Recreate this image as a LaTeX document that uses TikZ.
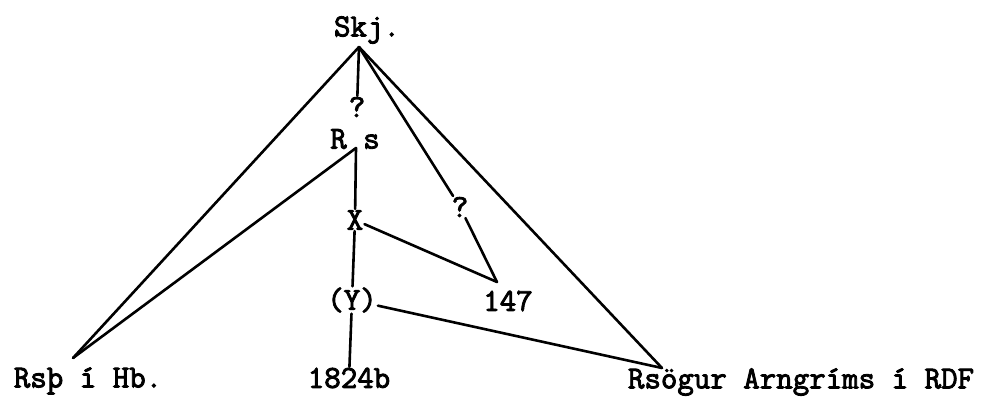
\documentclass[tikz,border=0pt]{standalone}
\usepackage{fontspec}
\newfontfamily\twfont{Latin Modern Mono}[FakeBold=2.8]
\usetikzlibrary{positioning}

\tikzset{
  ms/.style={font=\twfont\fontsize{32}{34}\selectfont, inner sep=1pt},
  stem/.style={line width=2.6pt, line cap=round, line join=round}
}

\begin{document}
\begin{tikzpicture}[x=1pt,y=-1pt]
    \useasboundingbox (0,0) rectangle (984,405);
    \node[ms] (skj) at (367,30) {Skj.};
    \node[ms] (q1) at (357,107) {?};
    \node[ms] (rs) at (355,139) {R s};
    \node[ms] (x) at (355,220) {X};
    \node[ms] (q2) at (460,207) {?};
    \node[ms] (ms147) at (508,301) {147};
    \node[ms] (y) at (352,300) {(Y)};
    \node[ms] (n1824) at (349,378) {1824b};
    \node[ms] (hb) at (88,381) {Rsþ í Hb.};
    \node[ms] (rdf) at (801,382) {Rsögur Arngríms í RDF};
    \coordinate (skjtop) at (359,47);
    \coordinate (rstop) at (356,148);
    \coordinate (hbtop) at (73,358);
    \coordinate (rdftop) at (662,368);
    \coordinate (top147) at (497,282);
    \draw[stem] (skjtop) -- (hbtop);
    \draw[stem] (skjtop) -- (rdftop);
    \draw[stem] (skjtop) -- (q1);
    \draw[stem] (skjtop) -- (q2);
    \draw[stem] (rstop) -- (hbtop);
    \draw[stem] (rstop) -- (x);
    \draw[stem] (x) -- (y);
    \draw[stem] (x) -- (top147);
    \draw[stem] (q2) -- (top147);
    \draw[stem] (y) -- (n1824);
    \draw[stem] (y) -- (rdftop);
\end{tikzpicture}
\end{document}
